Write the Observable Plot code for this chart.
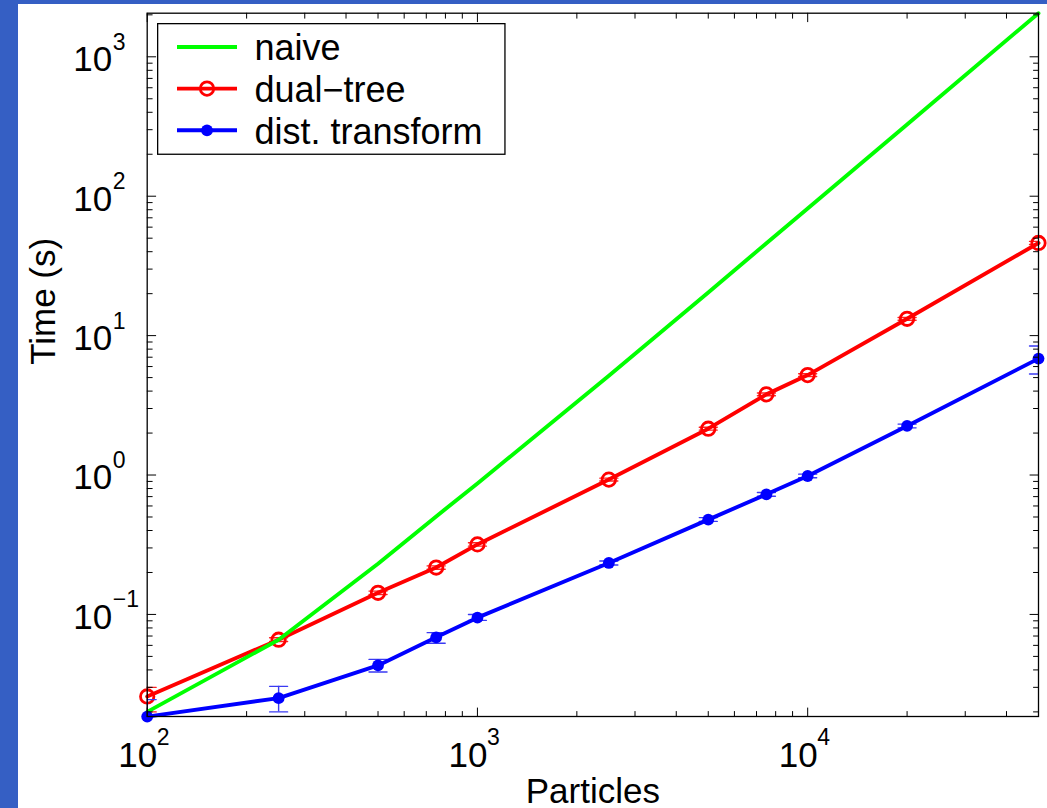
<!DOCTYPE html>
<html><head><meta charset="utf-8">
<script src="https://cdn.jsdelivr.net/npm/d3@7"></script>
<script src="https://cdn.jsdelivr.net/npm/@observablehq/plot@0.6"></script>
<style>
html,body{margin:0;padding:0;background:#355fc4;width:1047px;height:808px;overflow:hidden}
#wrap{position:absolute;left:18px;top:4px;width:1029px;height:804px;background:#fff}
#legend{position:absolute;left:138.7px;top:18.7px}
</style></head><body><div id="wrap"></div>
<script>
// ---- data ----
const particles = [100, 250, 500, 750, 1000, 2500, 5000, 7500, 10000, 20000, 50000];
const naive     = [0.0200, 0.0659, 0.231, 0.505, 0.87, 5.15, 20.4, 46.0, 81.7, 327, 2055];
const dualTree  = [0.0258, 0.0659, 0.143, 0.217, 0.318, 0.927, 2.15, 3.79, 5.21, 13.2, 46.2];
const dualLo    = [0.0200, 0.0640, 0.139, 0.211, 0.309, 0.905, 2.10, 3.70, 5.09, 12.9, 45.0];
const dualHi    = [0.0300, 0.0680, 0.147, 0.223, 0.327, 0.950, 2.20, 3.88, 5.33, 13.5, 47.4];
const distTr    = [0.0185, 0.0251, 0.0431, 0.0685, 0.0948, 0.234, 0.479, 0.727, 0.984, 2.25, 6.84];
const distLo    = [0.0140, 0.0200, 0.0386, 0.0622, 0.0907, 0.226, 0.465, 0.705, 0.955, 2.18, 5.31];
const distHi    = [0.0245, 0.0305, 0.0476, 0.0740, 0.1000, 0.242, 0.495, 0.750, 1.015, 2.32, 8.42];
const seriesNames = ["naive", "dual\u2212tree", "dist. transform"];
const seriesColors = ["#00ff00", "#ff0000", "#0000ff"];
const xMajor = [100, 1000, 10000];
const yMajor = [0.1, 1, 10, 100, 1000];
const xDomain = [100, 50000];
const yDomain = [0.01853, 2055];
const xLabel = "Particles";
const yLabel = "Time (s)";

// ---- derived tables ----
const rows = particles.map((x, i) => ({
  x, naive: naive[i], dual: dualTree[i], dualLo: dualLo[i], dualHi: dualHi[i],
  dist: distTr[i], distLo: distLo[i], distHi: distHi[i]
}));
function minors([lo, hi]) {
  const out = [];
  for (let e = Math.floor(Math.log10(lo)); e <= Math.ceil(Math.log10(hi)); e++)
    for (let m = 2; m <= 9; m++) { const v = m * 10 ** e; if (v > lo && v < hi) out.push(v); }
  return out;
}
const xMinor = minors(xDomain), yMinor = minors(yDomain);
const expText = d => { const e = Math.round(Math.log10(d)); return e < 0 ? "\u2212" + (-e) : String(e); };
const tickShape = {draw(c, l) { c.moveTo(0, 0); c.lineTo(0, -l); }};
const FONT = "'Liberation Sans', Arial, Helvetica, sans-serif";
const FS = 35, FSE = 23, MAJ = 8.5, MIN = 5, LW = 3.9;

function ticks(data, k, anchor, len) {
  const rot = {left: 90, right: -90, bottom: 0, top: 180}[anchor];
  const o = {frameAnchor: anchor, rotate: rot, length: len, anchor: "start", shape: tickShape, stroke: "black", strokeWidth: 1};
  o[k] = d => d;
  return Plot.vector(data, o);
}

const plot = Plot.plot({
  width: 1029, height: 804,
  marginLeft: 128.7, marginRight: 9, marginTop: 8.7, marginBottom: 92,
  style: {fontFamily: FONT, background: "white", overflow: "visible"},
  x: {type: "log", domain: xDomain, axis: null},
  y: {type: "log", domain: yDomain, axis: null},
  marks: [
    // dual-tree
    Plot.ruleX(rows, {x: "x", y1: "dualLo", y2: "dualHi", stroke: "#ff2020", strokeWidth: 1.4, clip: "frame"}),
    Plot.vector(rows, {x: "x", y: "dualLo", rotate: 90, length: 18, anchor: "middle", shape: tickShape, stroke: "#ff2020", strokeWidth: 1.4, clip: "frame"}),
    Plot.vector(rows, {x: "x", y: "dualHi", rotate: 90, length: 18, anchor: "middle", shape: tickShape, stroke: "#ff2020", strokeWidth: 1.4, clip: "frame"}),
    Plot.line(rows, {x: "x", y: "dual", stroke: seriesColors[1], strokeWidth: LW}),
    Plot.dot(rows, {x: "x", y: "dual", r: 6.7, stroke: seriesColors[1], strokeWidth: 2.8, fill: "none"}),
    // naive
    Plot.line(rows, {x: "x", y: "naive", stroke: seriesColors[0], strokeWidth: LW}),
    // dist. transform
    Plot.ruleX(rows, {x: "x", y1: "distLo", y2: "distHi", stroke: "#3a3af2", strokeWidth: 1.4, clip: "frame"}),
    Plot.vector(rows, {x: "x", y: "distLo", rotate: 90, length: 18, anchor: "middle", shape: tickShape, stroke: "#3a3af2", strokeWidth: 1.4, clip: "frame"}),
    Plot.vector(rows, {x: "x", y: "distHi", rotate: 90, length: 18, anchor: "middle", shape: tickShape, stroke: "#3a3af2", strokeWidth: 1.4, clip: "frame"}),
    Plot.line(rows, {x: "x", y: "dist", stroke: seriesColors[2], strokeWidth: LW}),
    Plot.dot(rows, {x: "x", y: "dist", r: 5.9, fill: seriesColors[2]}),
    // inward ticks on all four sides
    ticks(yMajor, "y", "left", MAJ), ticks(yMinor, "y", "left", MIN),
    ticks(yMajor, "y", "right", MAJ), ticks(yMinor, "y", "right", MIN),
    ticks(xMajor, "x", "bottom", MAJ), ticks(xMinor, "x", "bottom", MIN),
    ticks(xMajor, "x", "top", MAJ), ticks(xMinor, "x", "top", MIN),
    Plot.frame({stroke: "black", strokeWidth: 1.3}),
    // tick labels
    Plot.text(yMajor, {y: d => d, frameAnchor: "left", text: () => "10", textAnchor: "end", lineAnchor: "bottom", dx: -35, dy: 14.4, fontSize: FS}),
    Plot.text(yMajor, {y: d => d, frameAnchor: "left", text: expText, textAnchor: "start", lineAnchor: "bottom", dx: -34.5, dy: -7, fontSize: FSE}),
    Plot.text(xMajor, {x: d => d, frameAnchor: "bottom", text: () => "10", textAnchor: "end", lineAnchor: "bottom", dx: 10, dy: 50.7, fontSize: FS}),
    Plot.text(xMajor, {x: d => d, frameAnchor: "bottom", text: expText, textAnchor: "start", lineAnchor: "bottom", dx: 9.5, dy: 28, fontSize: FSE}),
    // axis labels
    Plot.text([xLabel], {frameAnchor: "bottom", text: d => d, lineAnchor: "bottom", dy: 86, fontSize: FS}),
    Plot.text([yLabel], {frameAnchor: "left", text: d => d, rotate: -90, lineAnchor: "bottom", dx: -92.7, fontSize: FS})
  ]
});
const wrap = document.getElementById("wrap");
wrap.appendChild(plot);

// ---- legend (inside the axes, top-left) ----
const lg = d3.select(wrap).append("svg").attr("id", "legend")
  .attr("width", 350).attr("height", 133).style("font-family", FONT);
lg.append("rect").attr("x", 0.65).attr("y", 0.65).attr("width", 347.3).attr("height", 130.6)
  .attr("fill", "white").attr("stroke", "black").attr("stroke-width", 1.3);
const rowY = [24, 65.6, 107.3];
seriesNames.forEach((name, i) => {
  const g = lg.append("g").attr("transform", `translate(0,${rowY[i]})`);
  g.append("line").attr("x1", 20).attr("x2", 80).attr("stroke", seriesColors[i]).attr("stroke-width", LW);
  if (i === 1) g.append("circle").attr("cx", 50).attr("r", 6.7).attr("fill", "none").attr("stroke", seriesColors[i]).attr("stroke-width", 2.8);
  if (i === 2) g.append("circle").attr("cx", 50).attr("r", 5.9).attr("fill", seriesColors[i]);
  g.append("text").attr("x", 97.5).attr("y", 13.3).attr("font-size", 36).attr("fill", "black").text(name);
});
</script></body></html>
